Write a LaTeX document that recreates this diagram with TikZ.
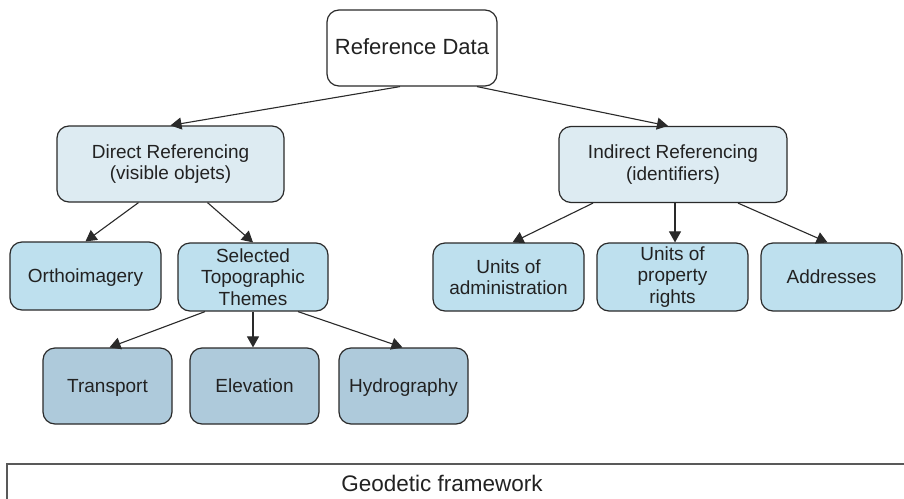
\documentclass[tikz,border=0pt]{standalone}
\usepackage{fontspec}
\setmainfont{Liberation Sans}
\usetikzlibrary{arrows.meta,calc}
\definecolor{lvlA}{HTML}{DDEBF2}
\definecolor{lvlB}{HTML}{BEE0EE}
\definecolor{lvlC}{HTML}{AECADB}
\definecolor{edgec}{HTML}{2A2A2A}
\definecolor{txtc}{HTML}{222222}
\tikzset{
  x=1pt, y=-1pt,
  boxbase/.style={draw=edgec, line width=1.2pt, rounded corners=12pt, align=center,
    inner sep=0pt, text=txtc, font=\fontsize{19}{21.5}\selectfont},
  oneline/.style={text height=13pt, text depth=0pt},
  topbox/.style={boxbase, fill=white, minimum width=170pt, minimum height=76pt,
    font=\fontsize{22}{25}\selectfont, text height=13pt, text depth=0pt},
  midbox/.style={boxbase, fill=lvlA, minimum width=228pt, minimum height=76pt},
  leafbox/.style={boxbase, fill=lvlB, minimum height=68pt},
  themebox/.style={boxbase, fill=lvlC, minimum width=129pt, minimum height=76pt, oneline},
  conn/.style={draw=edgec, line width=1.1pt, -{Triangle[length=11pt,width=12pt]}},
}
\begin{document}
\begin{tikzpicture}
\useasboundingbox (0,0) rectangle (904,498);
\clip (0,0) rectangle (904,498);
\fill[white] (0,0) rectangle (904,498);

\node[topbox] (ref) at (412,48) {Reference Data};
\node[midbox, minimum width=227pt, inner xsep=0pt] (dir) at (170.5,164) {Direct Referencing\\(visible objets)\hspace*{0pt}};
\node[midbox] (ind) at (673,164.5) {Indirect Referencing\\(identifiers)};

\node[leafbox, minimum width=151pt, oneline] (ortho) at (85.5,276) {Orthoimagery};
\node[leafbox, minimum width=150pt] (sel) at (253,277) {Selected\\Topographic\\Themes};
\node[leafbox, minimum width=151pt] (adm) at (508.5,277) {Units of\\administration};
\node[leafbox, minimum width=151pt] (prop) at (672.5,277) {Units of\\property\\rights};
\node[leafbox, minimum width=141pt, oneline] (addr) at (831.5,277) {Addresses};

\node[themebox] (trans) at (107.5,386) {Transport};
\node[themebox] (elev) at (254.5,386) {Elevation};
\node[themebox] (hydro) at (403.5,386) {Hydrography};

\draw[draw=black!65, line width=1.5pt, fill=white] (7,464) rectangle (930,530);
\node[anchor=base, text=txtc, font=\fontsize{22.5}{26}\selectfont, inner sep=0pt] (geo) at (442,491) {Geodetic framework};

\draw[conn] ([xshift=-12pt]ref.south) -- (dir.north);
\draw[conn] ([xshift=65pt]ref.south) -- ([xshift=-5pt]ind.north);
\draw[conn] ([xshift=-32pt]dir.south) -- (ortho.north);
\draw[conn] ([xshift=37pt]dir.south) -- (sel.north);
\draw[conn] ([xshift=-48pt]sel.south) -- ([xshift=2pt]trans.north);
\draw[conn] (sel.south) -- (sel.south |- elev.north);
\draw[conn] ([xshift=45pt]sel.south) -- ([xshift=-1pt]hydro.north);
\draw[conn] ([xshift=-80pt]ind.south) -- ([xshift=4pt]adm.north);
\draw[conn] ([xshift=2pt]ind.south) -- ([xshift=2pt]ind.south |- prop.north);
\draw[conn] ([xshift=65pt]ind.south) -- ([xshift=-4pt]addr.north);
\end{tikzpicture}
\end{document}
